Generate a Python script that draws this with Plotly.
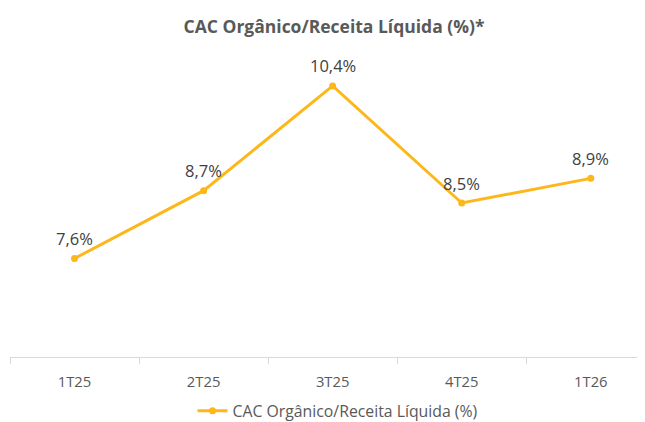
import plotly.graph_objects as go

categories = ["1T25", "2T25", "3T25", "4T25", "1T26"]
values = [7.6, 8.7, 10.4, 8.5, 8.9]
labels = ["7,6%", "8,7%", "10,4%", "8,5%", "8,9%"]
series_name = "CAC Orgânico/Receita Líquida (%)"
title_text = "CAC Orgânico/Receita Líquida (%)*"

color = "#FDB71A"
font_family = "Open Sans, Noto Sans, sans-serif"

W, H = 637, 414  # page body has an 8px margin in the browser

fig = go.Figure()
fig.add_trace(go.Scatter(
    x=categories,
    y=values,
    mode="lines+markers",
    name=series_name,
    line=dict(color=color, width=3),
    marker=dict(color=color, size=7),
))

for c, v, t in zip(categories, values, labels):
    fig.add_annotation(x=c, y=v, text=t, showarrow=False, yshift=20,
                       xanchor="center", yanchor="middle",
                       font=dict(size=16.5, color="#404040", family=font_family))

fig.update_layout(
    width=W, height=H,
    margin=dict(l=2, r=0, t=41, b=65, autoexpand=False),
    paper_bgcolor="white", plot_bgcolor="white",
    font=dict(family=font_family, color="#595959"),
    title=dict(text="<b>" + title_text + "</b>", x=326 / W, xanchor="center", xref="container",
               y=1 - 19 / H, yanchor="middle", yref="container",
               font=dict(size=17.5, color="#595959", family=font_family)),
    showlegend=True,
    legend=dict(orientation="h", x=330 / W, xanchor="center", xref="container",
                y=1 - 403 / H, yanchor="middle", yref="container",
                font=dict(size=15.8, color="#595959", family=font_family),
                bgcolor="rgba(0,0,0,0)", itemwidth=30),
    xaxis=dict(
        type="category",
        categoryorder="array", categoryarray=categories,
        range=[-0.5, 4.42],
        automargin=False,
        showgrid=False, zeroline=False,
        showline=True, linecolor="#D9D9D9", linewidth=1,
        ticks="outside", tickson="boundaries", ticklen=6, tickcolor="#D9D9D9",
        ticklabelstandoff=11,
        tickfont=dict(size=14.8, color="#595959", family=font_family),
    ),
    yaxis=dict(range=[6, 11], visible=False, showgrid=False, zeroline=False,
               automargin=False),
)

fig.write_html("out.html")
